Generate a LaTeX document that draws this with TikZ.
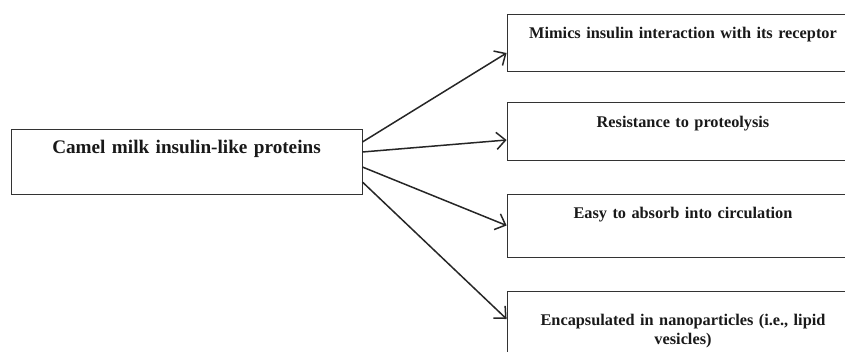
\documentclass[tikz,border=0pt]{standalone}
\usepackage{fontspec}
\setmainfont{Liberation Serif}
\usetikzlibrary{arrows.meta}

\tikzset{
	mainbox/.style={draw=black!80, line width=0.8pt, inner sep=0pt, text width=351pt, align=center, text=black!90, font=\bfseries\fontsize{19.2}{21}\selectfont},
	effbox/.style={draw=black!80, line width=0.8pt, inner sep=0pt, text width=352pt, align=center, text=black!90, font=\bfseries\fontsize{16.3}{19}\selectfont},
	effarrow/.style={line width=1.5pt, draw=black!85, -{Straight Barb[length=9pt,width=17pt,line width=1.5pt]}}
}

\begin{document}
\begin{tikzpicture}[x=1pt, y=-1pt]
	
	\useasboundingbox (0,0) rectangle (845,351);
	
	%source node
	\node[mainbox, text height=24pt, text depth=41pt] (camel) at (186.5,161.5){Camel milk insulin-like proteins};
	
	%effect nodes
	\node[effbox, text height=24pt, text depth=33pt] (mimic) at (683,42.5){Mimics insulin interaction with its receptor};
	\node[effbox, text height=25pt, text depth=33pt] (resist) at (683,131){Resistance to proteolysis};
	\node[effbox, text height=24pt, text depth=39pt] (absorb) at (683,225.5){Easy to absorb into circulation};
	\node[effbox, text height=34pt, text depth=31pt] (encap) at (683,323.5){Encapsulated in nanoparticles (i.e., lipid\\ vesicles)};
	
	\draw[effarrow] ([yshift=19.5pt]camel.east) -- ([yshift=-10.5pt]mimic.west);
	\draw[effarrow] ([yshift=9.5pt]camel.east) -- ([yshift=-9pt]resist.west);
	\draw[effarrow] ([yshift=-5.5pt]camel.east) -- (absorb.west);
	\draw[effarrow] ([yshift=-20.5pt]camel.east) -- ([yshift=4.5pt]encap.west);
	
\end{tikzpicture}
\end{document}
